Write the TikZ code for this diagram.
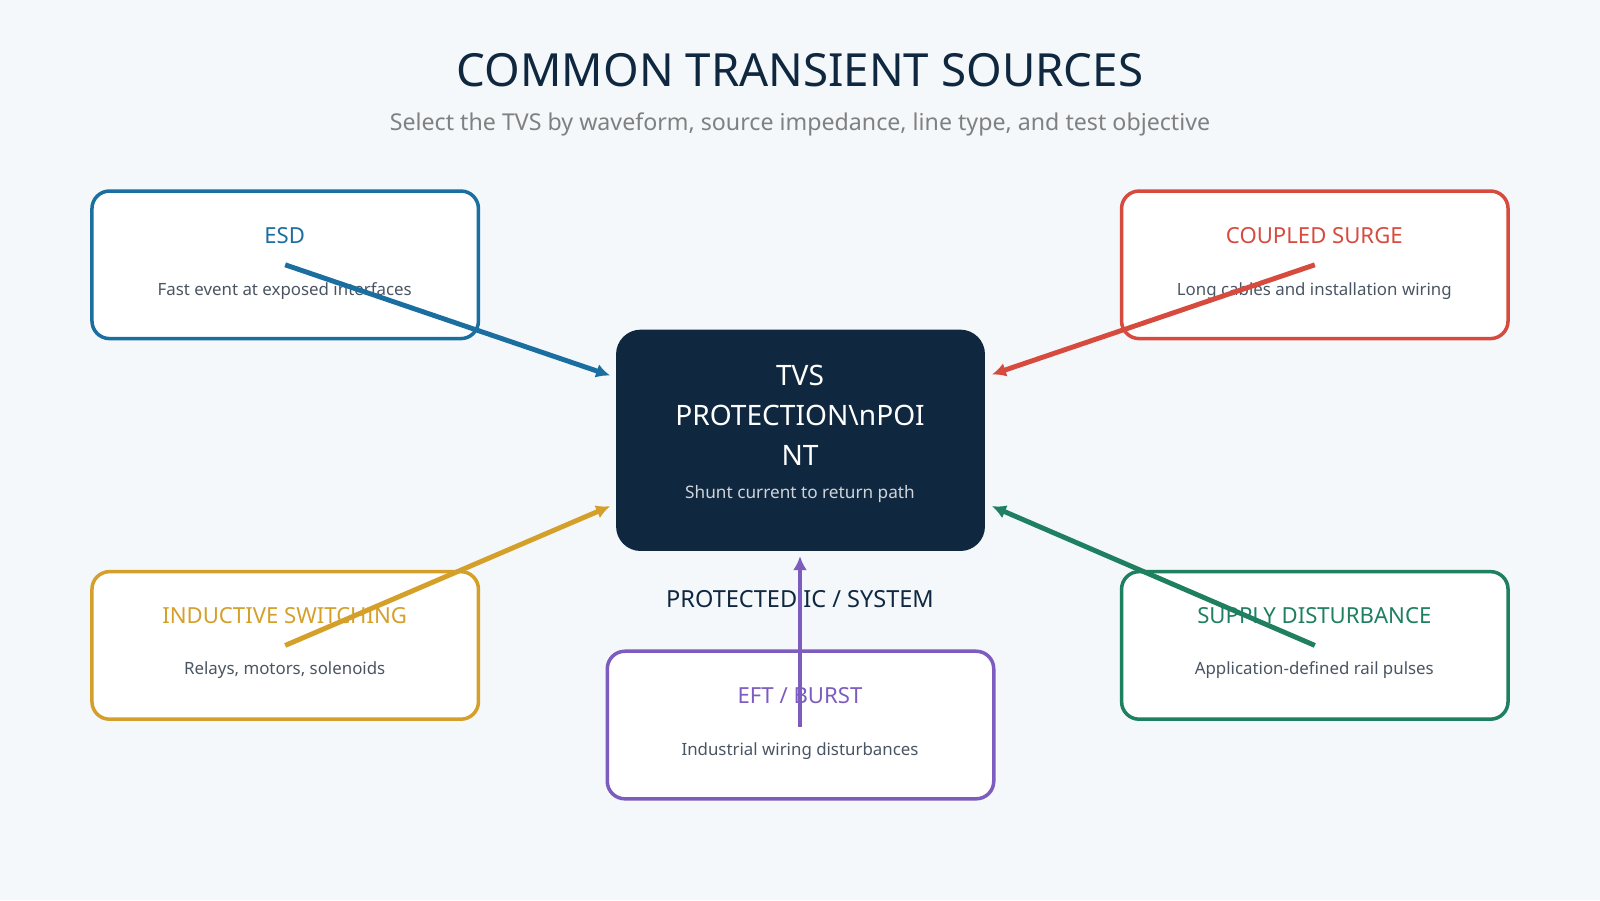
\documentclass[tikz,border=0pt]{standalone}
\usepackage{fontspec}
\setmainfont{Noto Sans}
\usepackage{tikz}

\definecolor{navy}{HTML}{10283F}
\definecolor{bgc}{HTML}{F4F8FB}
\definecolor{cblue}{HTML}{1A6FA0}
\definecolor{cred}{HTML}{D64B3E}
\definecolor{cgold}{HTML}{D4A02A}
\definecolor{cgreen}{HTML}{1E8060}
\definecolor{cpurple}{HTML}{7D5CC0}
\definecolor{greytext}{HTML}{4A5563}

\tikzset{
    src/.style={draw=#1,line width=1pt,fill=white,rounded corners=5pt,minimum width=110pt,minimum height=42pt},
    hd/.style={font=\fontsize{6.3}{7}\selectfont\bfseries,text=#1},
    desc/.style={font=\fontsize{4.8}{6}\selectfont,text=greytext},
    feed/.style={line width=1.4pt,draw=#1,-{Latex[length=4pt,width=4pt]}}
}
\usetikzlibrary{arrows.meta}

\begin{document}
\begin{tikzpicture}[x=0.010204cm,y=-0.010204cm]
    \fill[bgc](0,0)rectangle(1568,882);
    \useasboundingbox(0,0)rectangle(1568,882);

    \node[font=\fontsize{13}{15}\selectfont\bfseries,text=navy](title)at(784,69){COMMON TRANSIENT SOURCES};
    \node[font=\fontsize{6.6}{8}\selectfont,text=gray](sub)at(784,122){Select the TVS by waveform, source impedance, line type, and test objective};

    % source boxes
    \node[src=cblue](esd)at(279.5,259.5){};
    \node[src=cred](surge)at(1288.5,259.5){};
    \node[src=cgold](ind)at(279.5,632.5){};
    \node[src=cgreen](supply)at(1288.5,632.5){};
    \node[src=cpurple](eft)at(784.5,710.5){};

    \node[hd=cblue]at(279,231){ESD};
    \node[desc]at(279,285){Fast event at exposed interfaces};
    \node[hd=cred]at(1288,231){COUPLED SURGE};
    \node[desc]at(1288,285){Long cables and installation wiring};
    \node[hd=cgold]at(279,603){INDUCTIVE SWITCHING};
    \node[desc]at(279,657){Relays, motors, solenoids};
    \node[hd=cgreen]at(1288,603){SUPPLY DISTURBANCE};
    \node[desc]at(1288,657){Application-defined rail pulses};
    \node[hd=cpurple]at(784,682){EFT / BURST};
    \node[desc]at(784,736){Industrial wiring disturbances};

    % protection point
    \node[fill=navy,rounded corners=7pt,minimum width=105pt,minimum height=63pt](tvs)at(784.5,431.5){};
    \node[font=\fontsize{8}{11.3}\selectfont\bfseries,text=white,align=center]at(784,407){TVS\\PROTECTION\textbackslash nPOI\\NT};
    \node[font=\fontsize{4.9}{6}\selectfont,text=white!80!navy]at(784,484){Shunt current to return path};
    \node[font=\fontsize{6.7}{8}\selectfont\bfseries,text=navy](ic)at(784,587){PROTECTED IC / SYSTEM};

    \coordinate(a1)at(598,368);
    \coordinate(a2)at(972,367);
    \coordinate(a3)at(598,496);
    \coordinate(a4)at(972,496);
    \coordinate(a5)at(784,545);
    \coordinate(s5)at(784,712);

    \draw[feed=cblue](esd.center)--(a1);
    \draw[feed=cred](surge.center)--(a2);
    \draw[feed=cgold](ind.center)--(a3);
    \draw[feed=cgreen](supply.center)--(a4);
    \draw[feed=cpurple](s5)--(a5);
\end{tikzpicture}
\end{document}
